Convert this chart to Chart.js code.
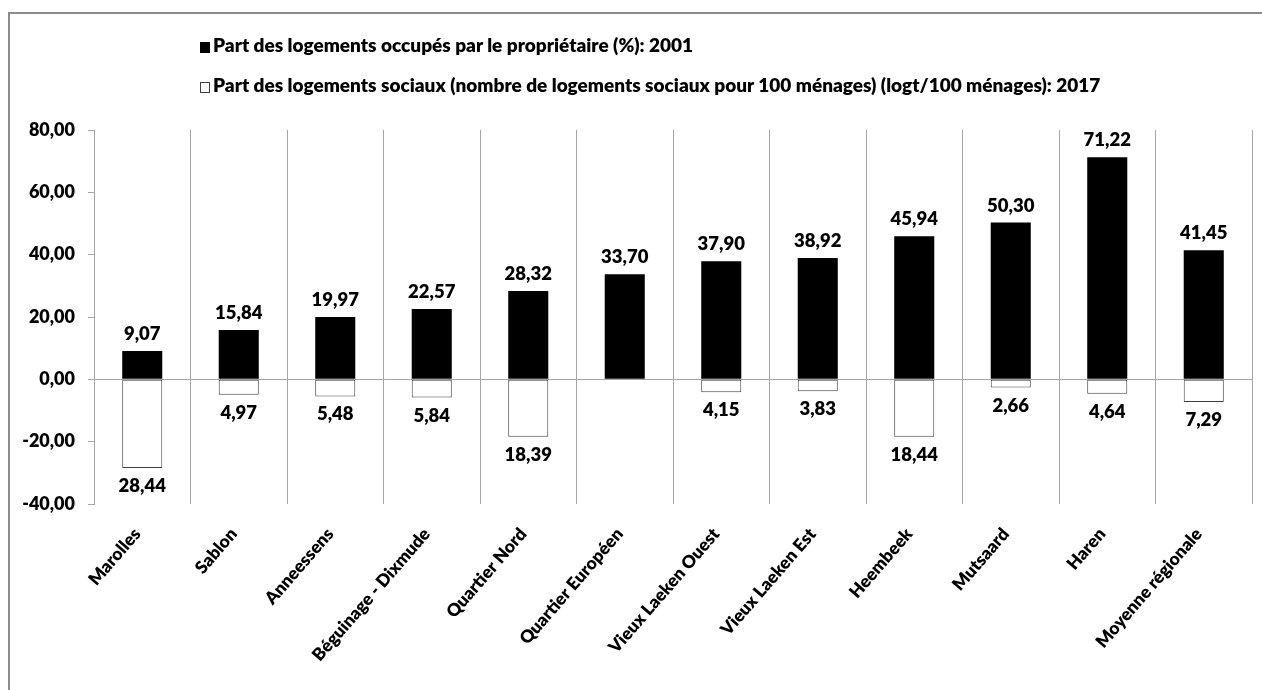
<!DOCTYPE html>
<html>
<head>
<meta charset="utf-8">
<script src="https://cdn.jsdelivr.net/npm/chart.js@4/dist/chart.umd.min.js"></script>
<style>
  html, body { margin: 0; padding: 0; background: #fff; }
  #wrap { position: relative; width: 1262px; height: 690px; overflow: hidden; }
  #frame { position: absolute; left: 8px; top: 12px; width: 1300px; height: 720px;
           border-left: 2px solid #8c8c8c; border-top: 2px solid #8c8c8c; box-sizing: border-box; }
  #legend { position: absolute; left: 200px; top: 33px; font-family: Lato, sans-serif; font-weight: 800;
            font-size: 19px; color: #000; }
  .item { position: absolute; left: 0; white-space: nowrap; height: 24px; line-height: 24px; }
  .box { display: inline-block; width: 10px; height: 11px; margin-right: 3px; vertical-align: -1px; box-sizing: border-box; }
  canvas { position: absolute; left: 0; top: 0; }
</style>
</head>
<body>
<div id="wrap">
  <div id="frame"></div>
  <canvas id="c" width="1262" height="690"></canvas>
  <div id="legend"></div>
</div>
<script>
const categories = ["Marolles", "Sablon", "Anneessens", "Béguinage - Dixmude", "Quartier Nord",
  "Quartier Européen", "Vieux Laeken Ouest", "Vieux Laeken Est", "Heembeek", "Mutsaard", "Haren",
  "Moyenne régionale"];
const ownerShare2001 = [9.07, 15.84, 19.97, 22.57, 28.32, 33.70, 37.90, 38.92, 45.94, 50.30, 71.22, 41.45];
const socialShare2017 = [28.44, 4.97, 5.48, 5.84, 18.39, null, 4.15, 3.83, 18.44, 2.66, 4.64, 7.29];
const seriesNames = ["Part des logements occupés par le propriétaire (%): 2001",
  "Part des logements sociaux (nombre de logements sociaux pour 100 ménages) (logt/100 ménages): 2017"];
const yMin = -40, yMax = 80, yStep = 20;

const fmt = v => Math.abs(v).toFixed(2).replace('.', ',');
const FONT = "Lato, sans-serif";
const WEIGHT = 800;

// HTML legend
const legend = document.getElementById('legend');
const legendStyles = [
  {bg: '#000', border: '1px solid #000'},
  {bg: '#fff', border: '1px solid #404040'}
];
seriesNames.forEach((name, i) => {
  const d = document.createElement('div');
  d.className = 'item';
  d.style.top = (i * 40) + 'px';
  const b = document.createElement('span');
  b.className = 'box';
  b.style.background = legendStyles[i].bg;
  b.style.border = legendStyles[i].border;
  d.appendChild(b);
  d.appendChild(document.createTextNode(name));
  legend.appendChild(d);
});

const valueLabels = {
  id: 'valueLabels',
  afterDatasetsDraw(chart) {
    const ctx = chart.ctx;
    ctx.save();
    ctx.font = WEIGHT + " 18.5px " + FONT;
    ctx.fillStyle = '#000';
    ctx.textAlign = 'center';
    ctx.textBaseline = 'middle';
    chart.data.datasets.forEach((ds, di) => {
      const meta = chart.getDatasetMeta(di);
      meta.data.forEach((el, i) => {
        const v = ds.data[i];
        if (v === null || v === undefined) return;
        const y = di === 0 ? el.y - 17 : el.y + 18;
        ctx.fillText(fmt(v), el.x, y);
      });
    });
    ctx.restore();
  }
};

new Chart(document.getElementById('c'), {
  type: 'bar',
  data: {
    labels: categories,
    datasets: [
      {
        label: seriesNames[0],
        data: ownerShare2001,
        backgroundColor: '#000',
        borderColor: '#000',
        borderWidth: 0,
        categoryPercentage: 1,
        barPercentage: 0.415
      },
      {
        label: seriesNames[1],
        data: socialShare2017.map(v => v === null ? null : -v),
        backgroundColor: '#fff',
        borderColor: '#404040',
        borderWidth: 1,
        borderSkipped: false,
        categoryPercentage: 1,
        barPercentage: 0.415
      }
    ]
  },
  options: {
    responsive: false,
    animation: false,
    devicePixelRatio: 1,
    layout: { padding: { left: 10, right: 10, top: 130, bottom: 0 } },
    plugins: {
      legend: { display: false },
      tooltip: { enabled: false }
    },
    scales: {
      x: {
        stacked: true,
        grid: { offset: true, color: '#a6a6a6', lineWidth: 1, drawTicks: false },
        border: { display: false },
        ticks: {
          font: { family: FONT, weight: WEIGHT, size: 17.5 },
          color: '#000',
          minRotation: 49,
          maxRotation: 49,
          padding: 20,
          labelOffset: -5,
          autoSkip: false
        },
        afterFit(scale) { scale.height = 186; }
      },
      y: {
        stacked: true,
        min: yMin,
        max: yMax,
        ticks: {
          stepSize: yStep,
          font: { family: FONT, weight: WEIGHT, size: 18 },
          color: '#000',
          padding: 13,
          callback: v => (v < 0 ? '-' : '') + fmt(v)
        },
        grid: {
          color: c => (c.tick && c.tick.value === 0) ? '#a6a6a6' : 'rgba(0,0,0,0)',
          tickColor: '#a6a6a6',
          tickLength: 6,
          lineWidth: 1
        },
        border: { display: true, color: '#a6a6a6' },
        afterFit(scale) { scale.width = 84; }
      }
    }
  },
  plugins: [valueLabels]
});
</script>
</body>
</html>
